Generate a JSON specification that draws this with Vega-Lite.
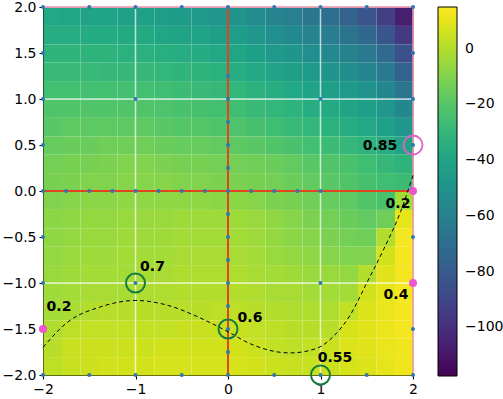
{
"$schema": "https://vega.github.io/schema/vega-lite/v6.json",
"width": 370, "height": 368,
"autosize": "none",
"padding": {"left": 43, "top": 7, "right": 90, "bottom": 24},
"background": "white",
"config": {
 "view": {"stroke": null},
 "font": "DejaVu Sans",
 "axis": {"title": null, "grid": false, "domainColor": "black", "tickColor": "black", "labelColor": "black", "labelFont": "DejaVu Sans", "labelFontSize": 14, "tickSize": 4, "labelPadding": 3, "zindex": 1, "labelFlush": false, "labelOverlap": false}
},
"datasets": {
 "heat": [
{"x":-1.9,"y":1.9,"v":-38},{"x":-1.7,"y":1.9,"v":-39},{"x":-1.5,"y":1.9,"v":-40},{"x":-1.3,"y":1.9,"v":-41},{"x":-1.1,"y":1.9,"v":-42},{"x":-0.9,"y":1.9,"v":-42},{"x":-0.7,"y":1.9,"v":-44},{"x":-0.5,"y":1.9,"v":-45},{"x":-0.3,"y":1.9,"v":-46},{"x":-0.1,"y":1.9,"v":-48},{"x":0.1,"y":1.9,"v":-50},{"x":0.3,"y":1.9,"v":-54},{"x":0.5,"y":1.9,"v":-58},{"x":0.7,"y":1.9,"v":-61},{"x":0.9,"y":1.9,"v":-65},{"x":1.1,"y":1.9,"v":-70},{"x":1.3,"y":1.9,"v":-76},{"x":1.5,"y":1.9,"v":-83},{"x":1.7,"y":1.9,"v":-93},{"x":1.9,"y":1.9,"v":-107},
{"x":-1.9,"y":1.7,"v":-35},{"x":-1.7,"y":1.7,"v":-35},{"x":-1.5,"y":1.7,"v":-36},{"x":-1.3,"y":1.7,"v":-36},{"x":-1.1,"y":1.7,"v":-37},{"x":-0.9,"y":1.7,"v":-37},{"x":-0.7,"y":1.7,"v":-39},{"x":-0.5,"y":1.7,"v":-40},{"x":-0.3,"y":1.7,"v":-41},{"x":-0.1,"y":1.7,"v":-43},{"x":0.1,"y":1.7,"v":-44},{"x":0.3,"y":1.7,"v":-48},{"x":0.5,"y":1.7,"v":-52},{"x":0.7,"y":1.7,"v":-55},{"x":0.9,"y":1.7,"v":-58},{"x":1.1,"y":1.7,"v":-62},{"x":1.3,"y":1.7,"v":-67},{"x":1.5,"y":1.7,"v":-73},{"x":1.7,"y":1.7,"v":-82},{"x":1.9,"y":1.7,"v":-96},
{"x":-1.9,"y":1.5,"v":-31},{"x":-1.7,"y":1.5,"v":-31},{"x":-1.5,"y":1.5,"v":-32},{"x":-1.3,"y":1.5,"v":-32},{"x":-1.1,"y":1.5,"v":-33},{"x":-0.9,"y":1.5,"v":-33},{"x":-0.7,"y":1.5,"v":-34},{"x":-0.5,"y":1.5,"v":-35},{"x":-0.3,"y":1.5,"v":-36},{"x":-0.1,"y":1.5,"v":-38},{"x":0.1,"y":1.5,"v":-39},{"x":0.3,"y":1.5,"v":-43},{"x":0.5,"y":1.5,"v":-46},{"x":0.7,"y":1.5,"v":-49},{"x":0.9,"y":1.5,"v":-52},{"x":1.1,"y":1.5,"v":-55},{"x":1.3,"y":1.5,"v":-59},{"x":1.5,"y":1.5,"v":-64},{"x":1.7,"y":1.5,"v":-72},{"x":1.9,"y":1.5,"v":-85},
{"x":-1.9,"y":1.3,"v":-28},{"x":-1.7,"y":1.3,"v":-28},{"x":-1.5,"y":1.3,"v":-28},{"x":-1.3,"y":1.3,"v":-29},{"x":-1.1,"y":1.3,"v":-29},{"x":-0.9,"y":1.3,"v":-29},{"x":-0.7,"y":1.3,"v":-30},{"x":-0.5,"y":1.3,"v":-31},{"x":-0.3,"y":1.3,"v":-32},{"x":-0.1,"y":1.3,"v":-33},{"x":0.1,"y":1.3,"v":-35},{"x":0.3,"y":1.3,"v":-38},{"x":0.5,"y":1.3,"v":-41},{"x":0.7,"y":1.3,"v":-43},{"x":0.9,"y":1.3,"v":-46},{"x":1.1,"y":1.3,"v":-49},{"x":1.3,"y":1.3,"v":-53},{"x":1.5,"y":1.3,"v":-57},{"x":1.7,"y":1.3,"v":-64},{"x":1.9,"y":1.3,"v":-76},
{"x":-1.9,"y":1.1,"v":-25},{"x":-1.7,"y":1.1,"v":-25},{"x":-1.5,"y":1.1,"v":-25},{"x":-1.3,"y":1.1,"v":-25},{"x":-1.1,"y":1.1,"v":-25},{"x":-0.9,"y":1.1,"v":-25},{"x":-0.7,"y":1.1,"v":-26},{"x":-0.5,"y":1.1,"v":-27},{"x":-0.3,"y":1.1,"v":-28},{"x":-0.1,"y":1.1,"v":-29},{"x":0.1,"y":1.1,"v":-30},{"x":0.3,"y":1.1,"v":-33},{"x":0.5,"y":1.1,"v":-35},{"x":0.7,"y":1.1,"v":-38},{"x":0.9,"y":1.1,"v":-41},{"x":1.1,"y":1.1,"v":-43},{"x":1.3,"y":1.1,"v":-46},{"x":1.5,"y":1.1,"v":-50},{"x":1.7,"y":1.1,"v":-56},{"x":1.9,"y":1.1,"v":-66},
{"x":-1.9,"y":0.9,"v":-21},{"x":-1.7,"y":0.9,"v":-21},{"x":-1.5,"y":0.9,"v":-21},{"x":-1.3,"y":0.9,"v":-21},{"x":-1.1,"y":0.9,"v":-21},{"x":-0.9,"y":0.9,"v":-21},{"x":-0.7,"y":0.9,"v":-22},{"x":-0.5,"y":0.9,"v":-23},{"x":-0.3,"y":0.9,"v":-24},{"x":-0.1,"y":0.9,"v":-25},{"x":0.1,"y":0.9,"v":-26},{"x":0.3,"y":0.9,"v":-28},{"x":0.5,"y":0.9,"v":-30},{"x":0.7,"y":0.9,"v":-32},{"x":0.9,"y":0.9,"v":-35},{"x":1.1,"y":0.9,"v":-37},{"x":1.3,"y":0.9,"v":-40},{"x":1.5,"y":0.9,"v":-43},{"x":1.7,"y":0.9,"v":-48},{"x":1.9,"y":0.9,"v":-56},
{"x":-1.9,"y":0.7,"v":-19},{"x":-1.7,"y":0.7,"v":-18},{"x":-1.5,"y":0.7,"v":-18},{"x":-1.3,"y":0.7,"v":-18},{"x":-1.1,"y":0.7,"v":-18},{"x":-0.9,"y":0.7,"v":-18},{"x":-0.7,"y":0.7,"v":-19},{"x":-0.5,"y":0.7,"v":-20},{"x":-0.3,"y":0.7,"v":-20},{"x":-0.1,"y":0.7,"v":-21},{"x":0.1,"y":0.7,"v":-22},{"x":0.3,"y":0.7,"v":-24},{"x":0.5,"y":0.7,"v":-26},{"x":0.7,"y":0.7,"v":-28},{"x":0.9,"y":0.7,"v":-30},{"x":1.1,"y":0.7,"v":-33},{"x":1.3,"y":0.7,"v":-35},{"x":1.5,"y":0.7,"v":-38},{"x":1.7,"y":0.7,"v":-42},{"x":1.9,"y":0.7,"v":-48},
{"x":-1.9,"y":0.5,"v":-16},{"x":-1.7,"y":0.5,"v":-15},{"x":-1.5,"y":0.5,"v":-15},{"x":-1.3,"y":0.5,"v":-14},{"x":-1.1,"y":0.5,"v":-14},{"x":-0.9,"y":0.5,"v":-14},{"x":-0.7,"y":0.5,"v":-15},{"x":-0.5,"y":0.5,"v":-16},{"x":-0.3,"y":0.5,"v":-16},{"x":-0.1,"y":0.5,"v":-17},{"x":0.1,"y":0.5,"v":-18},{"x":0.3,"y":0.5,"v":-19},{"x":0.5,"y":0.5,"v":-21},{"x":0.7,"y":0.5,"v":-23},{"x":0.9,"y":0.5,"v":-25},{"x":1.1,"y":0.5,"v":-27},{"x":1.3,"y":0.5,"v":-29},{"x":1.5,"y":0.5,"v":-32},{"x":1.7,"y":0.5,"v":-35},{"x":1.9,"y":0.5,"v":-40},
{"x":-1.9,"y":0.3,"v":-13},{"x":-1.7,"y":0.3,"v":-12},{"x":-1.5,"y":0.3,"v":-12},{"x":-1.3,"y":0.3,"v":-11},{"x":-1.1,"y":0.3,"v":-10},{"x":-0.9,"y":0.3,"v":-10},{"x":-0.7,"y":0.3,"v":-11},{"x":-0.5,"y":0.3,"v":-12},{"x":-0.3,"y":0.3,"v":-12},{"x":-0.1,"y":0.3,"v":-13},{"x":0.1,"y":0.3,"v":-13},{"x":0.3,"y":0.3,"v":-14},{"x":0.5,"y":0.3,"v":-15},{"x":0.7,"y":0.3,"v":-17},{"x":0.9,"y":0.3,"v":-19},{"x":1.1,"y":0.3,"v":-21},{"x":1.3,"y":0.3,"v":-23},{"x":1.5,"y":0.3,"v":-26},{"x":1.7,"y":0.3,"v":-29},{"x":1.9,"y":0.3,"v":-32},
{"x":-1.9,"y":0.1,"v":-12},{"x":-1.7,"y":0.1,"v":-11},{"x":-1.5,"y":0.1,"v":-10},{"x":-1.3,"y":0.1,"v":-10},{"x":-1.1,"y":0.1,"v":-9},{"x":-0.9,"y":0.1,"v":-9},{"x":-0.7,"y":0.1,"v":-9},{"x":-0.5,"y":0.1,"v":-10},{"x":-0.3,"y":0.1,"v":-10},{"x":-0.1,"y":0.1,"v":-11},{"x":0.1,"y":0.1,"v":-11},{"x":0.3,"y":0.1,"v":-12},{"x":0.5,"y":0.1,"v":-13},{"x":0.7,"y":0.1,"v":-15},{"x":0.9,"y":0.1,"v":-17},{"x":1.1,"y":0.1,"v":-19},{"x":1.3,"y":0.1,"v":-21},{"x":1.5,"y":0.1,"v":-24},{"x":1.7,"y":0.1,"v":-26},{"x":1.9,"y":0.1,"v":-27},
{"x":-1.9,"y":-0.1,"v":-10},{"x":-1.7,"y":-0.1,"v":-9},{"x":-1.5,"y":-0.1,"v":-8},{"x":-1.3,"y":-0.1,"v":-8},{"x":-1.1,"y":-0.1,"v":-7},{"x":-0.9,"y":-0.1,"v":-7},{"x":-0.7,"y":-0.1,"v":-7},{"x":-0.5,"y":-0.1,"v":-7},{"x":-0.3,"y":-0.1,"v":-7},{"x":-0.1,"y":-0.1,"v":-8},{"x":0.1,"y":-0.1,"v":-8},{"x":0.3,"y":-0.1,"v":-9},{"x":0.5,"y":-0.1,"v":-11},{"x":0.7,"y":-0.1,"v":-12},{"x":0.9,"y":-0.1,"v":-14},{"x":1.1,"y":-0.1,"v":-16},{"x":1.3,"y":-0.1,"v":-18},{"x":1.5,"y":-0.1,"v":-21},{"x":1.7,"y":-0.1,"v":-23},{"x":1.9,"y":-0.1,"v":-3},
{"x":-1.9,"y":-0.3,"v":-8},{"x":-1.7,"y":-0.3,"v":-7},{"x":-1.5,"y":-0.3,"v":-6},{"x":-1.3,"y":-0.3,"v":-6},{"x":-1.1,"y":-0.3,"v":-5},{"x":-0.9,"y":-0.3,"v":-5},{"x":-0.7,"y":-0.3,"v":-5},{"x":-0.5,"y":-0.3,"v":-4},{"x":-0.3,"y":-0.3,"v":-4},{"x":-0.1,"y":-0.3,"v":-4},{"x":0.1,"y":-0.3,"v":-4},{"x":0.3,"y":-0.3,"v":-5},{"x":0.5,"y":-0.3,"v":-7},{"x":0.7,"y":-0.3,"v":-9},{"x":0.9,"y":-0.3,"v":-11},{"x":1.1,"y":-0.3,"v":-13},{"x":1.3,"y":-0.3,"v":-15},{"x":1.5,"y":-0.3,"v":-17},{"x":1.7,"y":-0.3,"v":-14},{"x":1.9,"y":-0.3,"v":10},
{"x":-1.9,"y":-0.5,"v":-7},{"x":-1.7,"y":-0.5,"v":-6},{"x":-1.5,"y":-0.5,"v":-5},{"x":-1.3,"y":-0.5,"v":-5},{"x":-1.1,"y":-0.5,"v":-4},{"x":-0.9,"y":-0.5,"v":-4},{"x":-0.7,"y":-0.5,"v":-4},{"x":-0.5,"y":-0.5,"v":-3},{"x":-0.3,"y":-0.5,"v":-3},{"x":-0.1,"y":-0.5,"v":-3},{"x":0.1,"y":-0.5,"v":-3},{"x":0.3,"y":-0.5,"v":-4},{"x":0.5,"y":-0.5,"v":-6},{"x":0.7,"y":-0.5,"v":-8},{"x":0.9,"y":-0.5,"v":-9},{"x":1.1,"y":-0.5,"v":-11},{"x":1.3,"y":-0.5,"v":-13},{"x":1.5,"y":-0.5,"v":-14},{"x":1.7,"y":-0.5,"v":0},{"x":1.9,"y":-0.5,"v":13},
{"x":-1.9,"y":-0.7,"v":-6},{"x":-1.7,"y":-0.7,"v":-5},{"x":-1.5,"y":-0.7,"v":-4},{"x":-1.3,"y":-0.7,"v":-4},{"x":-1.1,"y":-0.7,"v":-3},{"x":-0.9,"y":-0.7,"v":-3},{"x":-0.7,"y":-0.7,"v":-3},{"x":-0.5,"y":-0.7,"v":-2},{"x":-0.3,"y":-0.7,"v":-2},{"x":-0.1,"y":-0.7,"v":-2},{"x":0.1,"y":-0.7,"v":-2},{"x":0.3,"y":-0.7,"v":-3},{"x":0.5,"y":-0.7,"v":-5},{"x":0.7,"y":-0.7,"v":-6},{"x":0.9,"y":-0.7,"v":-7},{"x":1.1,"y":-0.7,"v":-9},{"x":1.3,"y":-0.7,"v":-10},{"x":1.5,"y":-0.7,"v":-10},{"x":1.7,"y":-0.7,"v":6},{"x":1.9,"y":-0.7,"v":13},
{"x":-1.9,"y":-0.9,"v":-5},{"x":-1.7,"y":-0.9,"v":-4},{"x":-1.5,"y":-0.9,"v":-3},{"x":-1.3,"y":-0.9,"v":-3},{"x":-1.1,"y":-0.9,"v":-3},{"x":-0.9,"y":-0.9,"v":-2},{"x":-0.7,"y":-0.9,"v":-2},{"x":-0.5,"y":-0.9,"v":-1},{"x":-0.3,"y":-0.9,"v":-1},{"x":-0.1,"y":-0.9,"v":-1},{"x":0.1,"y":-0.9,"v":-1},{"x":0.3,"y":-0.9,"v":-2},{"x":0.5,"y":-0.9,"v":-3},{"x":0.7,"y":-0.9,"v":-4},{"x":0.9,"y":-0.9,"v":-5},{"x":1.1,"y":-0.9,"v":-5},{"x":1.3,"y":-0.9,"v":-6},{"x":1.5,"y":-0.9,"v":0},{"x":1.7,"y":-0.9,"v":9},{"x":1.9,"y":-0.9,"v":13},
{"x":-1.9,"y":-1.1,"v":-4},{"x":-1.7,"y":-1.1,"v":-3},{"x":-1.5,"y":-1.1,"v":-2},{"x":-1.3,"y":-1.1,"v":-2},{"x":-1.1,"y":-1.1,"v":-2},{"x":-0.9,"y":-1.1,"v":-1},{"x":-0.7,"y":-1.1,"v":-1},{"x":-0.5,"y":-1.1,"v":0},{"x":-0.3,"y":-1.1,"v":0},{"x":-0.1,"y":-1.1,"v":0},{"x":0.1,"y":-1.1,"v":0},{"x":0.3,"y":-1.1,"v":-1},{"x":0.5,"y":-1.1,"v":-2},{"x":0.7,"y":-1.1,"v":-2},{"x":0.9,"y":-1.1,"v":-3},{"x":1.1,"y":-1.1,"v":-3},{"x":1.3,"y":-1.1,"v":-3},{"x":1.5,"y":-1.1,"v":6},{"x":1.7,"y":-1.1,"v":10},{"x":1.9,"y":-1.1,"v":13},
{"x":-1.9,"y":-1.3,"v":-3},{"x":-1.7,"y":-1.3,"v":-2},{"x":-1.5,"y":-1.3,"v":0},{"x":-1.3,"y":-1.3,"v":1},{"x":-1.1,"y":-1.3,"v":1},{"x":-0.9,"y":-1.3,"v":1},{"x":-0.7,"y":-1.3,"v":1},{"x":-0.5,"y":-1.3,"v":1},{"x":-0.3,"y":-1.3,"v":1},{"x":-0.1,"y":-1.3,"v":2},{"x":0.1,"y":-1.3,"v":2},{"x":0.3,"y":-1.3,"v":1},{"x":0.5,"y":-1.3,"v":0},{"x":0.7,"y":-1.3,"v":-1},{"x":0.9,"y":-1.3,"v":-1},{"x":1.1,"y":-1.3,"v":-1},{"x":1.3,"y":-1.3,"v":3},{"x":1.5,"y":-1.3,"v":8},{"x":1.7,"y":-1.3,"v":11},{"x":1.9,"y":-1.3,"v":13},
{"x":-1.9,"y":-1.5,"v":-1},{"x":-1.7,"y":-1.5,"v":2},{"x":-1.5,"y":-1.5,"v":3},{"x":-1.3,"y":-1.5,"v":3},{"x":-1.1,"y":-1.5,"v":3},{"x":-0.9,"y":-1.5,"v":3},{"x":-0.7,"y":-1.5,"v":3},{"x":-0.5,"y":-1.5,"v":4},{"x":-0.3,"y":-1.5,"v":4},{"x":-0.1,"y":-1.5,"v":4},{"x":0.1,"y":-1.5,"v":4},{"x":0.3,"y":-1.5,"v":3},{"x":0.5,"y":-1.5,"v":2},{"x":0.7,"y":-1.5,"v":1},{"x":0.9,"y":-1.5,"v":1},{"x":1.1,"y":-1.5,"v":1},{"x":1.3,"y":-1.5,"v":7},{"x":1.5,"y":-1.5,"v":9},{"x":1.7,"y":-1.5,"v":11},{"x":1.9,"y":-1.5,"v":13},
{"x":-1.9,"y":-1.7,"v":1},{"x":-1.7,"y":-1.7,"v":4},{"x":-1.5,"y":-1.7,"v":5},{"x":-1.3,"y":-1.7,"v":5},{"x":-1.1,"y":-1.7,"v":5},{"x":-0.9,"y":-1.7,"v":5},{"x":-0.7,"y":-1.7,"v":6},{"x":-0.5,"y":-1.7,"v":6},{"x":-0.3,"y":-1.7,"v":6},{"x":-0.1,"y":-1.7,"v":6},{"x":0.1,"y":-1.7,"v":6},{"x":0.3,"y":-1.7,"v":5},{"x":0.5,"y":-1.7,"v":3},{"x":0.7,"y":-1.7,"v":2},{"x":0.9,"y":-1.7,"v":3},{"x":1.1,"y":-1.7,"v":5},{"x":1.3,"y":-1.7,"v":8},{"x":1.5,"y":-1.7,"v":9},{"x":1.7,"y":-1.7,"v":11},{"x":1.9,"y":-1.7,"v":12},
{"x":-1.9,"y":-1.9,"v":2},{"x":-1.7,"y":-1.9,"v":4},{"x":-1.5,"y":-1.9,"v":5},{"x":-1.3,"y":-1.9,"v":6},{"x":-1.1,"y":-1.9,"v":6},{"x":-0.9,"y":-1.9,"v":6},{"x":-0.7,"y":-1.9,"v":7},{"x":-0.5,"y":-1.9,"v":7},{"x":-0.3,"y":-1.9,"v":7},{"x":-0.1,"y":-1.9,"v":7},{"x":0.1,"y":-1.9,"v":7},{"x":0.3,"y":-1.9,"v":6},{"x":0.5,"y":-1.9,"v":5},{"x":0.7,"y":-1.9,"v":4},{"x":0.9,"y":-1.9,"v":4},{"x":1.1,"y":-1.9,"v":5},{"x":1.3,"y":-1.9,"v":7},{"x":1.5,"y":-1.9,"v":8},{"x":1.7,"y":-1.9,"v":10},{"x":1.9,"y":-1.9,"v":12}
 ],
 "curve": [
{"x":-2.0,"y":-1.70},{"x":-1.74,"y":-1.43},{"x":-1.38,"y":-1.26},{"x":-1.0,"y":-1.19},{"x":-0.66,"y":-1.24},{"x":-0.3,"y":-1.38},{"x":0.0,"y":-1.53},{"x":0.24,"y":-1.66},{"x":0.67,"y":-1.76},{"x":0.96,"y":-1.71},{"x":1.14,"y":-1.58},{"x":1.32,"y":-1.35},{"x":1.5,"y":-1.0},{"x":1.68,"y":-0.64},{"x":1.86,"y":-0.24},{"x":2.0,"y":0.17}
 ],
 "dots": [
{"x":-2,"y":-2},{"x":-2,"y":-1.5},{"x":-2,"y":-1},{"x":-2,"y":-0.5},{"x":-2,"y":0},{"x":-2,"y":0.5},{"x":-2,"y":1},{"x":-2,"y":1.5},{"x":-2,"y":2},
{"x":2,"y":-2},{"x":2,"y":-1.5},{"x":2,"y":-1},{"x":2,"y":-0.5},{"x":2,"y":0},{"x":2,"y":0.5},{"x":2,"y":1},{"x":2,"y":1.5},{"x":2,"y":2},
{"x":-1.5,"y":-2},{"x":-1,"y":-2},{"x":-0.5,"y":-2},{"x":0,"y":-2},{"x":0.5,"y":-2},{"x":1,"y":-2},{"x":1.5,"y":-2},
{"x":-1.5,"y":2},{"x":-1,"y":2},{"x":-0.5,"y":2},{"x":0,"y":2},{"x":0.5,"y":2},{"x":1,"y":2},{"x":1.5,"y":2},
{"x":0,"y":-1.75},{"x":0,"y":-1.5},{"x":0,"y":-1.25},{"x":0,"y":-1},{"x":0,"y":-0.75},{"x":0,"y":-0.5},{"x":0,"y":-0.25},{"x":0,"y":0},{"x":0,"y":0.25},{"x":0,"y":0.5},{"x":0,"y":0.75},{"x":0,"y":1},{"x":0,"y":1.25},
{"x":-1.75,"y":0},{"x":-1.5,"y":0},{"x":-1.25,"y":0},{"x":-1,"y":0},{"x":-0.75,"y":0},{"x":-0.5,"y":0},{"x":-0.25,"y":0},{"x":0.25,"y":0},{"x":0.5,"y":0},{"x":0.75,"y":0},{"x":1,"y":0},
{"x":-1,"y":1},{"x":1,"y":1},{"x":-1,"y":-1},{"x":1,"y":-1}
 ],
 "pinkdots": [{"x":-2,"y":-1.5},{"x":2,"y":0},{"x":2,"y":-1}],
 "greenrings": [{"x":-1,"y":-1},{"x":0,"y":-1.5},{"x":1,"y":-2}],
 "pinkrings": [{"x":2,"y":0.5}],
 "labels": [
{"label":"0.7","x":-0.816,"y":-0.826},{"label":"0.2","x":-1.827,"y":-1.261},{"label":"0.6","x":0.238,"y":-1.38},{"label":"0.55","x":1.157,"y":-1.815},{"label":"0.4","x":1.816,"y":-1.13},{"label":"0.2","x":1.838,"y":-0.141},{"label":"0.85","x":1.643,"y":0.489}
 ]
},
"layer": [
 {"data": {"name": "heat"}, "mark": {"type": "rect"},
  "encoding": {
   "x": {"field": "x", "type": "quantitative", "bin": {"extent": [-2, 2], "step": 0.2}, "scale": {"domain": [-2, 2], "nice": false, "zero": false}, "axis": {"values": [-2, -1, 0, 1, 2], "format": "d", "title": null}},
   "y": {"field": "y", "type": "quantitative", "bin": {"extent": [-2, 2], "step": 0.2}, "scale": {"domain": [-2, 2], "nice": false, "zero": false}, "axis": {"values": [-2, -1.5, -1, -0.5, 0, 0.5, 1, 1.5, 2], "format": ".1f", "title": null}},
   "color": {"field": "v", "type": "quantitative", "scale": {"type": "linear", "scheme": "viridis", "domain": [-117.5, 15]},
     "legend": {"type": "gradient", "title": null, "offset": 25, "padding": 0, "direction": "vertical", "gradientLength": 369, "gradientThickness": 19, "values": [0, -20, -40, -60, -80, -100], "labelFontSize": 14, "labelFont": "DejaVu Sans", "labelColor": "black", "labelOffset": 8, "labelOverlap": false, "gradientStrokeColor": "black", "gradientStrokeWidth": 1}}
  }},
 {"data": {"values": [{"x": -1}, {"x": 1}]}, "mark": {"type": "rule", "color": "white", "opacity": 0.7, "strokeWidth": 1.5}, "encoding": {"x": {"field": "x", "type": "quantitative"}}},
 {"data": {"values": [{"y": -1}, {"y": 1}]}, "mark": {"type": "rule", "color": "white", "opacity": 0.7, "strokeWidth": 1.5}, "encoding": {"y": {"field": "y", "type": "quantitative"}}},
 {"data": {"values": [{"x": 0}]}, "mark": {"type": "rule", "color": "#e0451f", "strokeWidth": 2}, "encoding": {"x": {"field": "x", "type": "quantitative"}}},
 {"data": {"values": [{"y": 0}]}, "mark": {"type": "rule", "color": "#e0451f", "strokeWidth": 2}, "encoding": {"y": {"field": "y", "type": "quantitative"}}},
 {"data": {"values": [{"x": 2}]}, "mark": {"type": "rule", "color": "#f28fa8", "strokeWidth": 1.5}, "encoding": {"x": {"field": "x", "type": "quantitative"}}},
 {"data": {"values": [{"y": 2}]}, "mark": {"type": "rule", "color": "#f28fa8", "strokeWidth": 1.5}, "encoding": {"y": {"field": "y", "type": "quantitative"}}},
 {"data": {"name": "curve"}, "mark": {"type": "line", "color": "black", "strokeWidth": 1, "strokeDash": [4, 3], "interpolate": "monotone"},
  "encoding": {"x": {"field": "x", "type": "quantitative"}, "y": {"field": "y", "type": "quantitative"}}},
 {"data": {"name": "dots"}, "mark": {"type": "point", "filled": true, "size": 16, "color": "#2f76b2", "opacity": 1},
  "encoding": {"x": {"field": "x", "type": "quantitative"}, "y": {"field": "y", "type": "quantitative"}}},
 {"data": {"name": "pinkdots"}, "mark": {"type": "point", "filled": true, "size": 64, "color": "#ef55cf", "opacity": 1},
  "encoding": {"x": {"field": "x", "type": "quantitative"}, "y": {"field": "y", "type": "quantitative"}}},
 {"data": {"name": "greenrings"}, "mark": {"type": "point", "filled": false, "size": 361, "color": "#177a3e", "strokeWidth": 2, "opacity": 1},
  "encoding": {"x": {"field": "x", "type": "quantitative"}, "y": {"field": "y", "type": "quantitative"}}},
 {"data": {"name": "pinkrings"}, "mark": {"type": "point", "filled": false, "size": 361, "color": "#e060c8", "strokeWidth": 1.8, "opacity": 1},
  "encoding": {"x": {"field": "x", "type": "quantitative"}, "y": {"field": "y", "type": "quantitative"}}},
 {"data": {"name": "labels"}, "mark": {"type": "text", "font": "DejaVu Sans", "fontWeight": "bold", "fontSize": 14, "color": "black", "align": "center", "baseline": "middle"},
  "encoding": {"x": {"field": "x", "type": "quantitative"}, "y": {"field": "y", "type": "quantitative"}, "text": {"field": "label"}}}
]
}
